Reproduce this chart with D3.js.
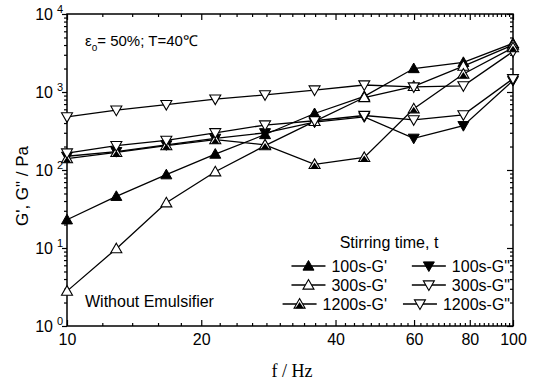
<!DOCTYPE html>
<html><head><meta charset="utf-8">
<script src="https://cdn.jsdelivr.net/npm/d3@7"></script>
<style>
html,body{margin:0;padding:0;background:#fff;}
svg{display:block;font-family:"Liberation Sans",Arial,sans-serif;}
</style></head>
<body><svg id="c" width="535" height="381"></svg>
<script>
// ---- data ----
const freq = [10, 12.9, 16.7, 21.5, 27.8, 35.9, 46.4, 59.9, 77.4, 100];
const g100p   = [23, 46, 87, 160, 285, 530, 880, 2000, 2400, 4200];
const g100pp  = [150, 172, 210, 255, 300, 410, 480, 255, 370, 1400];
const g300p   = [2.8, 9.8, 38, 95, 205, 420, 850, 1180, 2150, 4000];
const g300pp  = [480, 585, 690, 810, 920, 1060, 1230, 1160, 1200, 3300];
const g1200p  = [140, 168, 205, 245, 210, 118, 145, 610, 1700, 3700];
const g1200pp = [165, 205, 240, 300, 377, 428, 500, 440, 510, 1480];
const seriesNames = ["100s-G'", "100s-G\"", "300s-G'", "300s-G\"", "1200s-G'", "1200s-G\""];
const xMajor = [10, 20, 40, 60, 80, 100];
const yMajor = [1, 10, 100, 1000, 10000];

const series = [
  {name: seriesNames[0], vals: g100p,   marker: "upFilled"},
  {name: seriesNames[1], vals: g100pp,  marker: "downFilled"},
  {name: seriesNames[2], vals: g300p,   marker: "upOpen"},
  {name: seriesNames[3], vals: g300pp,  marker: "downOpen"},
  {name: seriesNames[4], vals: g1200p,  marker: "upHalf"},
  {name: seriesNames[5], vals: g1200pp, marker: "downOpen"}
];

const L = 67, R = 513, T = 14, B = 326;
const svg = d3.select("#c");
const x = d3.scaleLog().domain([10, 100]).range([L, R]);
const y = d3.scaleLog().domain([1, 1e4]).range([B, T]);

// minor ticks
const xMinor = d3.range(12, 100, 2).filter(v => !xMajor.includes(v));
const yMinor = [];
[1, 10, 100, 1000].forEach(d => { for (let k = 2; k <= 9; k++) yMinor.push(d * k); });

// bottom axis
const bottom = svg.append("g").attr("transform", `translate(0,${B})`)
  .call(d3.axisBottom(x).tickValues(xMajor).tickFormat(d3.format("d")).tickSize(-6).tickPadding(8));
svg.append("g").attr("transform", `translate(0,${B})`)
  .call(d3.axisBottom(x).tickValues(xMinor).tickFormat("").tickSize(-3));
// top axis
svg.append("g").attr("transform", `translate(0,${T})`)
  .call(d3.axisTop(x).tickValues(xMajor).tickFormat("").tickSize(-6));
svg.append("g").attr("transform", `translate(0,${T})`)
  .call(d3.axisTop(x).tickValues(xMinor).tickFormat("").tickSize(-3));
// left axis
const left = svg.append("g").attr("transform", `translate(${L},0)`)
  .call(d3.axisLeft(y).tickValues(yMajor).tickFormat(d => "").tickSize(5).tickPadding(2));
svg.append("g").attr("transform", `translate(${L},0)`)
  .call(d3.axisLeft(y).tickValues(yMinor).tickFormat("").tickSize(3));
// right axis
svg.append("g").attr("transform", `translate(${R},0)`)
  .call(d3.axisRight(y).tickValues(yMajor).tickFormat("").tickSize(-6));
svg.append("g").attr("transform", `translate(${R},0)`)
  .call(d3.axisRight(y).tickValues(yMinor).tickFormat("").tickSize(-3));

svg.selectAll(".domain").remove();
svg.selectAll(".tick line").attr("stroke", "#000").attr("stroke-width", 1.2);
bottom.selectAll("text").attr("font-size", 16).attr("fill", "#000")
  .attr("font-family", "Liberation Sans, Arial, sans-serif");

// y labels with superscripts
left.selectAll(".tick").each(function(d) {
  const t = d3.select(this).select("text");
  t.attr("x", -14).attr("dy", "0.32em").attr("font-size", 16).attr("fill", "#000")
   .attr("text-anchor", "end").attr("font-family", "Liberation Sans, Arial, sans-serif");
  t.text(null);
  t.append("tspan").text("10");
});
left.selectAll(".tick").each(function(d) {
  d3.select(this).append("text").attr("x", -7).attr("y", -2).attr("font-size", 11)
    .attr("fill", "#000").attr("text-anchor", "middle")
    .attr("font-family", "Liberation Sans, Arial, sans-serif")
    .text(Math.round(Math.log10(d)));
});

// frame
svg.append("rect").attr("x", L).attr("y", T).attr("width", R - L).attr("height", B - T)
  .attr("fill", "none").attr("stroke", "#000").attr("stroke-width", 1.5);

// markers
function marker(g, type, cx, cy) {
  const s = 5.5;
  const up = `M${cx},${cy - s}L${cx + s},${cy + s * 0.75}L${cx - s},${cy + s * 0.75}Z`;
  const down = `M${cx},${cy + s}L${cx + s},${cy - s * 0.75}L${cx - s},${cy - s * 0.75}Z`;
  if (type === "upFilled") g.append("path").attr("d", up).attr("fill", "#000").attr("stroke", "#000");
  else if (type === "downFilled") g.append("path").attr("d", down).attr("fill", "#000").attr("stroke", "#000");
  else if (type === "upOpen") g.append("path").attr("d", up).attr("fill", "#fff").attr("stroke", "#000").attr("stroke-width", 1.1);
  else if (type === "downOpen") g.append("path").attr("d", down).attr("fill", "#fff").attr("stroke", "#000").attr("stroke-width", 1.1);
  else if (type === "upHalf") {
    g.append("path").attr("d", up).attr("fill", "#fff").attr("stroke", "#000").attr("stroke-width", 1.1);
    const t = 0.55;
    g.append("path").attr("d",
      `M${cx},${cy - s * t + s * 0.2}L${cx + s * 0.75},${cy + s * 0.75}L${cx - s * 0.75},${cy + s * 0.75}Z`)
      .attr("fill", "#000");
  }
}

const line = d3.line().x((d, i) => x(freq[i])).y(d => y(d));
const plot = svg.append("g");
series.forEach(s => {
  plot.append("path").attr("d", line(s.vals)).attr("fill", "none")
    .attr("stroke", "#000").attr("stroke-width", 1.3);
});
series.forEach(s => {
  const g = plot.append("g");
  s.vals.forEach((v, i) => marker(g, s.marker, x(freq[i]), y(v)));
});

// annotations
const ann = svg.append("text").attr("x", 85).attr("y", 46).attr("font-size", 15).attr("fill", "#000");
ann.append("tspan").text("ε");
ann.append("tspan").attr("font-size", 10).attr("dy", 5).text("o");
ann.append("tspan").attr("dy", -5).text("= 50%; T=40℃");

svg.append("text").attr("x", 85).attr("y", 307).attr("font-size", 16).attr("fill", "#000")
  .text("Without Emulsifier");

// legend
svg.append("text").attr("x", 389).attr("y", 248).attr("text-anchor", "middle")
  .attr("font-size", 16).attr("fill", "#000").text("Stirring time, t");
const rowsY = [266, 285, 304];
const colEnd = [387, 510];
series.forEach((s, i) => {
  const row = Math.floor(i / 2), col = i % 2;
  const ly = rowsY[row];
  const txt = svg.append("text").attr("x", colEnd[col]).attr("y", ly + 6)
    .attr("text-anchor", "end").attr("font-size", 16).attr("fill", "#000").text(s.name);
  const w = txt.node().getComputedTextLength();
  const start = colEnd[col] - w;
  const lx1 = start - 40, lx2 = start - 6;
  const g = svg.append("g");
  g.append("line").attr("x1", lx1).attr("x2", lx2).attr("y1", ly).attr("y2", ly)
    .attr("stroke", "#000").attr("stroke-width", 1.3);
  marker(g, s.marker, (lx1 + lx2) / 2, ly);
});

// axis titles
svg.append("text").attr("x", 292).attr("y", 377).attr("text-anchor", "middle")
  .attr("font-family", "Liberation Serif, Times New Roman, serif").attr("font-size", 18)
  .attr("fill", "#000").text("f / Hz");
svg.append("text").attr("transform", "translate(28,186) rotate(-90)").attr("text-anchor", "middle")
  .attr("font-size", 17).attr("fill", "#000").text("G', G\" / Pa");
</script></body></html>
